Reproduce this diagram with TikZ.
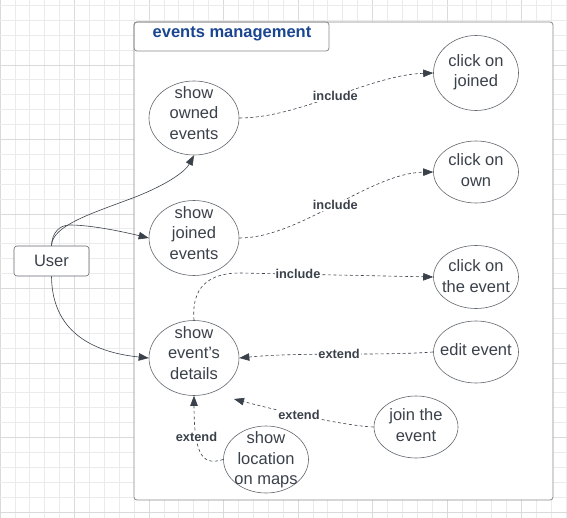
\documentclass[tikz,border=0pt]{standalone}
\usepackage{fontspec}
\setmainfont{Liberation Sans}
\usetikzlibrary{arrows.meta,shapes.geometric}
\definecolor{txt}{HTML}{3A414A}
\definecolor{ttl}{HTML}{1A4690}
\definecolor{gridl}{HTML}{EBEBEB}
\definecolor{gridd}{HTML}{DADADA}
\definecolor{frm}{HTML}{8A8A8A}
\tikzset{
  uc/.style={ellipse,draw=txt!80,line width=0.6pt,fill=white,inner sep=0pt},
  uctext/.style={align=center,text=txt,inner sep=0pt,font=\fontsize{16.5}{20.3}\selectfont},
  actor/.style={draw=txt!80,line width=0.6pt,rounded corners=3pt,fill=white,minimum width=75pt,minimum height=30pt,text=txt,font=\fontsize{16.5}{18}\selectfont},
  assoc/.style={draw=txt,line width=0.6pt,-{Triangle[length=10pt,width=7.5pt]}},
  dep/.style={draw=txt,line width=0.6pt,dash pattern=on 3pt off 2.5pt,-{Triangle[length=10pt,width=7.5pt]}},
  lbl/.style={fill=white,inner sep=1pt,text=txt,font=\bfseries\fontsize{12.8}{14}\selectfont},
}
\begin{document}
\begin{tikzpicture}[x=1pt,y=-1pt]
\useasboundingbox (0,0) rectangle (567,518);
% grid
\foreach \k in {0,...,38} {
  \pgfmathsetmacro{\xx}{14.9*\k}
  \pgfmathtruncatemacro{\m}{mod(\k,5)}
  \ifnum\m=0 \draw[gridd,line width=0.8pt] (\xx,0) -- (\xx,518); \else \draw[gridl,line width=0.8pt] (\xx,0) -- (\xx,518); \fi
}
\foreach \k in {0,...,34} {
  \pgfmathsetmacro{\yy}{5.4+14.9*\k}
  \pgfmathtruncatemacro{\m}{mod(\k+1,5)}
  \ifnum\m=0 \draw[gridd,line width=0.8pt] (0,\yy) -- (567,\yy); \else \draw[gridl,line width=0.8pt] (0,\yy) -- (567,\yy); \fi
}
% frame
\draw[frm,line width=0.8pt,fill=white,rounded corners=3pt] (134,22) rectangle (553,500);
\draw[frm,line width=0.8pt,rounded corners=3pt] (134,22) rectangle (329,51);
\node[text=ttl,font=\bfseries\fontsize{16.5}{18}\selectfont] (title) at (232,34) {events management};
% use cases
\node[uc,minimum width=90pt,minimum height=74pt,label={[uctext,yshift=5pt,name=towned]center:show\\owned\\events}] (owned) at (194,118) {};
\node[uc,minimum width=90pt,minimum height=75pt,label={[uctext,yshift=5pt,name=tjoined]center:show\\joined\\events}] (joined) at (194,238) {};
\node[uc,minimum width=90pt,minimum height=75pt,label={[uctext,yshift=5pt,name=tdetails]center:show\\event's\\details}] (details) at (194,358) {};
\node[uc,minimum width=85pt,minimum height=75pt,label={[uctext,yshift=1pt,name=tcjoined]center:click on\\joined}] (cjoined) at (476,73) {};
\node[uc,minimum width=85pt,minimum height=62pt,label={[uctext,yshift=2pt,name=tcown]center:click on\\own}] (cown) at (476,172) {};
\node[uc,minimum width=85pt,minimum height=63pt,label={[uctext,yshift=1pt,name=tcevent]center:click on\\the event}] (cevent) at (476,277) {};
\node[uc,minimum width=85pt,minimum height=62pt,label={[uctext,yshift=2pt,name=tedit]center:edit event}] (edit) at (476,352) {};
\node[uc,minimum width=84pt,minimum height=62pt,label={[uctext,yshift=2pt,name=tjointhe]center:join the\\event}] (jointhe) at (416,427) {};
\node[uc,minimum width=85pt,minimum height=67pt,label={[uctext,yshift=-0.5pt,name=tmaps]center:show\\location\\on maps}] (maps) at (266,459.5) {};
\node[actor] (user) at (51.5,261) {User};
% associations
\draw[assoc] (user.north) .. controls (52,226) and (90,214) .. (130,199) .. controls (165,186) and (185,172) .. (owned.south);
\draw[assoc] (user.north) .. controls (52,232) and (60,225) .. (70,225) .. controls (90,225) and (120,231) .. (joined.west);
\draw[assoc] (user.south) .. controls (52,330) and (90,352) .. (details.west);
% dependencies
\draw[dep] (owned.east) .. controls (300,118) and (370,75) .. node[lbl,pos=0.5] (l1) {include} (cjoined.west);
\draw[dep] (joined.east) .. controls (300,238) and (370,173) .. node[lbl,pos=0.5] (l2) {include} (cown.west);
\draw[dep] (details.north) .. controls (192,296) and (200,273) .. (240,273) -- node[lbl,pos=0.3] (l3) {include} (cevent.west);
\draw[dep] (edit.west) .. controls (380,356) and (300,352) .. node[lbl,pos=0.5] (l4) {extend} (details.east);
\draw[dep] (jointhe.west) .. controls (345,426) and (275,410) .. node[lbl,pos=0.56] (l5) {extend} (234,399);
\draw[dep] (maps.west) .. controls (205,465) and (194,460) .. node[lbl,pos=0.72] (l6) {extend} (details.south);
\end{tikzpicture}
\end{document}
